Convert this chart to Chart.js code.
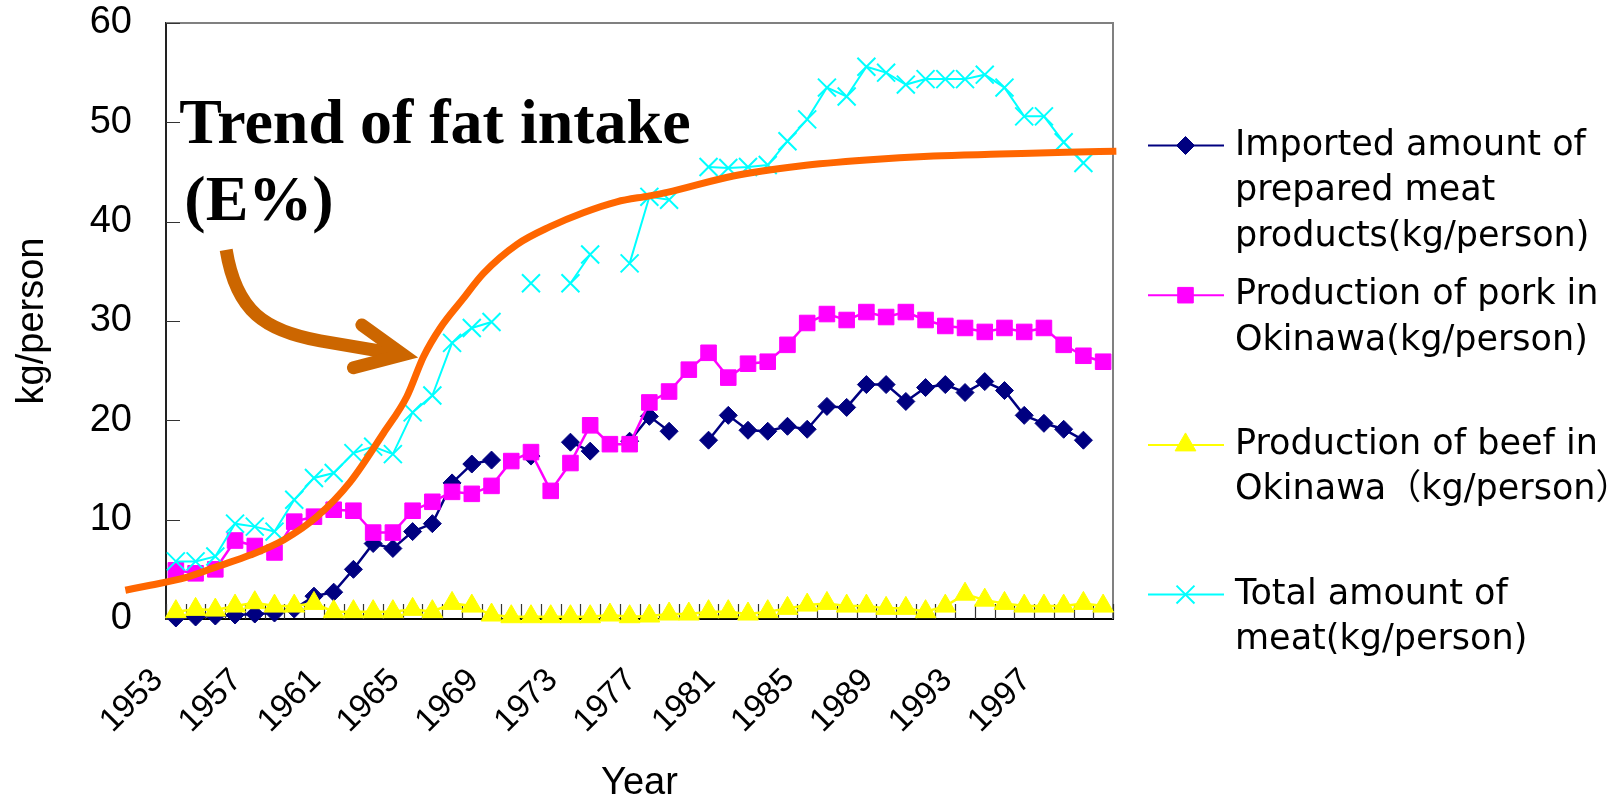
<!DOCTYPE html>
<html>
<head>
<meta charset="utf-8">
<title>Meat supply in Okinawa and the trend of fat intake</title>
<script src="https://cdn.jsdelivr.net/npm/chart.js@4.4.1/dist/chart.umd.min.js"></script>
<style>
  html, body { margin: 0; padding: 0; background: #fff; }
  canvas { display: block; }
</style>
</head>
<body>
<canvas id="meatChart" width="1616" height="803"></canvas>
<script>
// ---- data (kg/person per year) ----
const years = [1953, 1954, 1955, 1956, 1957, 1958, 1959, 1960, 1961, 1962, 1963, 1964,
  1965, 1966, 1967, 1968, 1969, 1970, 1971, 1972, 1973, 1974, 1975, 1976,
  1977, 1978, 1979, 1980, 1981, 1982, 1983, 1984, 1985, 1986, 1987, 1988,
  1989, 1990, 1991, 1992, 1993, 1994, 1995, 1996, 1997, 1998, 1999, 2000];

const tickYears = [1953, 1957, 1961, 1965, 1969, 1973, 1977, 1981, 1985, 1989, 1993, 1997];

const importedPrepared = [0.1, 0.2, 0.3, 0.4, 0.5, 0.6, 1.0, 2.3, 2.7, 5.0, 7.6, 7.1,
  8.8, 9.6, 13.7, 15.6, 16.0, null, 16.4, null, 17.8, 16.9, null, 17.9,
  20.4, 18.9, null, 18.0, 20.5, 19.0, 18.9, 19.4, 19.1, 21.4, 21.3, 23.6,
  23.6, 21.9, 23.3, 23.6, 22.8, 23.9, 23.0, 20.5, 19.7, 19.1, 18.0, null];

const porkOkinawa = [4.9, 4.6, 5.0, 7.9, 7.35, 6.7, 9.8, 10.3, 11.0, 10.9, 8.7, 8.7,
  10.9, 11.8, 12.8, 12.6, 13.4, 15.9, 16.8, 12.9, 15.7, 19.5, 17.6, 17.6,
  21.8, 22.9, 25.1, 26.8, 24.3, 25.7, 25.9, 27.6, 29.8, 30.7, 30.1, 30.9,
  30.4, 30.9, 30.1, 29.5, 29.3, 28.9, 29.3, 28.9, 29.3, 27.6, 26.5, 25.9];

const beefOkinawa = [0.74, 0.97, 0.9, 1.3, 1.64, 1.3, 1.3, 1.57, 0.74, 0.74, 0.74, 0.74,
  0.97, 0.74, 1.57, 1.3, 0.4, 0.23, 0.23, 0.23, 0.23, 0.23, 0.4, 0.23,
  0.3, 0.5, 0.5, 0.74, 0.74, 0.5, 0.74, 1.07, 1.4, 1.57, 1.3, 1.3,
  1.07, 1.07, 0.74, 1.3, 2.5, 1.9, 1.57, 1.3, 1.3, 1.3, 1.57, 1.3];

const totalMeat = [5.8, 5.8, 6.3, 9.6, 9.3, 8.8, 12.0, 14.2, 14.7, 16.7, 17.35, 16.6,
  20.8, 22.5, 27.8, 29.3, 29.9, null, 33.8, null, 33.8, 36.7, null, 35.8,
  42.5, 42.2, null, 45.5, 45.4, 45.5, 45.7, 48.1, 50.3, 53.5, 52.6, 55.6,
  55.0, 53.8, 54.35, 54.35, 54.35, 54.8, 53.5, 50.6, 50.6, 48.0, 45.9, null];

// fat-intake trend (E%), drawn on the same vertical scale as a freehand overlay
const fatTrendYears = [1950.44, 1951.7, 1953.48, 1955.08, 1956.77, 1958.46, 1960.15, 1961.84,
  1963.52, 1964.71, 1965.55, 1966.4, 1967.5, 1968.59, 1970.28, 1971.97, 1973.65,
  1975.35, 1977.0, 1977.9, 1981.25, 1984.63, 1988.0, 1991.4, 1994.76, 1998.14, 2000.67];
const fatTrendValues = [2.9, 3.4, 4.16, 5.27, 6.44, 7.96, 10.3, 13.8,
  18.7, 22.4, 26.4, 29.3, 32.1, 34.8, 37.7, 39.5, 40.9,
  42.0, 42.6, 42.95, 44.6, 45.6, 46.2, 46.6, 46.8, 47.0, 47.1];

const seriesNames = [
  ['Imported amount of', 'prepared meat', 'products(kg/person)'],
  ['Production of pork in', 'Okinawa(kg/person)'],
  ['Production of beef in', 'Okinawa（kg/person）'],
  ['Total amount of', 'meat(kg/person)']
];

// callout: label text and a curved arrow pointing at the trend curve (year, value)
const trendLabelLines = ['Trend of fat intake', '(E%)'];
const trendLabelYears = [1953.17, 1953.43];
const trendLabelValues = [47.94, 40.18];
const arrowShaftYears = [1955.55, 1956.06, 1957.53, 1960.32, 1964.3];
const arrowShaftValues = [37.16, 30.92, 29.0, 28.0, 26.65];
const arrowHeadYears = [1962.43, 1964.52, 1962.0];
const arrowHeadValues = [29.6, 26.6, 25.3];

// ---- plugins ----
const plotFrame = {
  id: 'plotFrame',
  beforeDatasetsDraw(chart) {
    const { ctx, chartArea: a, scales: { x, y } } = chart;
    ctx.save();
    ctx.strokeStyle = '#808080';
    ctx.lineWidth = 2;
    ctx.beginPath();
    ctx.moveTo(a.left, a.top);
    ctx.lineTo(a.right, a.top);
    ctx.lineTo(a.right, a.bottom);
    ctx.stroke();
    // tick marks pointing into the plot
    ctx.strokeStyle = '#333';
    ctx.lineWidth = 1.2;
    ctx.beginPath();
    y.ticks.forEach(t => {
      const py = Math.round(y.getPixelForValue(t.value)) + 0.5;
      ctx.moveTo(a.left, py);
      ctx.lineTo(a.left + 14, py);
    });
    for (let k = 0; k <= years.length; k++) {
      const px = Math.round(x.getPixelForValue(k - 0.5)) + 0.5;
      ctx.moveTo(px, a.bottom);
      ctx.lineTo(px, a.bottom - 15);
    }
    ctx.stroke();
    ctx.restore();
  }
};

const trendCallout = {
  id: 'trendCallout',
  afterDatasetsDraw(chart) {
    const { ctx, scales: { xt, y } } = chart;
    const P = (yr, v) => [xt.getPixelForValue(yr), y.getPixelForValue(v)];
    ctx.save();
    ctx.strokeStyle = '#CC6600';
    ctx.lineWidth = 13;
    ctx.lineCap = 'butt';
    ctx.lineJoin = 'round';
    const s = arrowShaftYears.map((yr, i) => P(yr, arrowShaftValues[i]));
    ctx.beginPath();
    ctx.moveTo(s[0][0], s[0][1]);
    ctx.bezierCurveTo(s[1][0], s[1][1], s[2][0], s[2][1], s[3][0], s[3][1]);
    ctx.lineTo(s[4][0], s[4][1]);
    ctx.stroke();
    const h = arrowHeadYears.map((yr, i) => P(yr, arrowHeadValues[i]));
    ctx.lineCap = 'round';
    ctx.lineJoin = 'miter';
    ctx.miterLimit = 10;
    ctx.beginPath();
    ctx.moveTo(h[0][0], h[0][1]);
    ctx.lineTo(h[1][0], h[1][1]);
    ctx.lineTo(h[2][0], h[2][1]);
    ctx.stroke();

    ctx.fillStyle = '#000';
    ctx.font = 'bold 64px "Liberation Serif", "Times New Roman", serif';
    ctx.textBaseline = 'alphabetic';
    ctx.textAlign = 'left';
    trendLabelLines.forEach((t, i) => {
      const [px, py] = P(trendLabelYears[i], trendLabelValues[i]);
      ctx.fillText(t, px, py);
    });
    ctx.restore();
  }
};

const sideLegend = {
  id: 'sideLegend',
  afterDraw(chart) {
    const { ctx, chartArea: a } = chart;
    ctx.save();
    ctx.font = '35px "DejaVu Sans", "Noto Sans CJK JP", sans-serif';
    ctx.textBaseline = 'middle';
    ctx.textAlign = 'left';
    seriesNames.forEach((lines, k) => {
      const ds = chart.data.datasets[k];
      const y0 = a.top + 122.5 + k * 149.7;
      ctx.strokeStyle = ds.borderColor;
      ctx.lineWidth = 2;
      ctx.beginPath();
      ctx.moveTo(a.right + 35, y0);
      ctx.lineTo(a.right + 111, y0);
      ctx.stroke();
      ctx.fillStyle = ds.pointBackgroundColor;
      ctx.strokeStyle = ds.pointBorderColor;
      ctx.lineWidth = ds.pointBorderWidth;
      Chart.helpers.drawPoint(ctx, {
        pointStyle: ds.pointStyle, radius: ds.pointRadius, rotation: 0,
        borderWidth: ds.pointBorderWidth
      }, a.right + 72.5, y0);
      ctx.fillStyle = '#000';
      lines.forEach((t, j) => ctx.fillText(t, a.right + 122, y0 + j * 45.5));
    });
    ctx.restore();
  }
};

// ---- chart ----
function series(data, color, style, radius, width, order) {
  return {
    data, order,
    borderColor: color, backgroundColor: color,
    pointBackgroundColor: color, pointBorderColor: color,
    pointStyle: style, pointRadius: radius, pointBorderWidth: style === 'crossRot' ? 2 : 1,
    borderWidth: width, spanGaps: false, clip: false, tension: 0
  };
}

const datasets = [
  series(importedPrepared, '#000080', 'rectRot', 9, 2.5, 4),
  series(porkOkinawa, '#FF00FF', 'rect', 11, 2.5, 3),
  series(beefOkinawa, '#FFFF00', 'triangle', 12, 2.5, 2),
  series(totalMeat, '#00FFFF', 'crossRot', 12.7, 2, 1),
  {
    data: fatTrendYears.map((yr, i) => ({ x: yr, y: fatTrendValues[i] })),
    xAxisID: 'xt', order: 0,
    borderColor: '#FF6600', borderWidth: 7, pointRadius: 0,
    cubicInterpolationMode: 'monotone', clip: false
  }
];

Chart.defaults.color = '#000';

new Chart(document.getElementById('meatChart'), {
  type: 'line',
  data: { labels: years, datasets },
  options: {
    responsive: false,
    animation: false,
    devicePixelRatio: 1,
    layout: { padding: { top: 23, right: 503, bottom: 0, left: 0 } },
    plugins: { legend: { display: false }, tooltip: { enabled: false } },
    scales: {
      x: {
        type: 'category',
        offset: true,
        grid: { display: false, drawTicks: false },
        border: { display: true, color: '#000', width: 2 },
        ticks: {
          autoSkip: false, minRotation: 45, maxRotation: 45,
          padding: 42, labelOffset: -18,
          font: { family: '"Liberation Sans", Arial, sans-serif', size: 33 },
          callback(value, index) {
            const yr = years[index];
            return tickYears.includes(yr) ? String(yr) : '';
          }
        },
        title: {
          display: true, text: 'Year', padding: 0,
          font: { family: '"Liberation Sans", Arial, sans-serif', size: 38, lineHeight: 1 }
        },
        afterFit(scale) {
          scale.height = 184;
          scale.paddingLeft = 0;
          scale.paddingRight = 0;
        }
      },
      xt: {
        type: 'linear', display: false, bounds: 'data',
        afterDataLimits(scale) { scale.min = 1952.5; scale.max = 2000.5; }
      },
      y: {
        min: 0, max: 60,
        grid: { display: false, drawTicks: false },
        border: { display: true, color: '#222', width: 2 },
        ticks: {
          stepSize: 10, padding: 34,
          font: { family: '"Liberation Sans", Arial, sans-serif', size: 38 }
        },
        title: {
          display: true, text: 'kg/person', padding: { top: 14, bottom: 0 },
          font: { family: '"Liberation Sans", Arial, sans-serif', size: 38, lineHeight: 1 }
        },
        afterFit(scale) {
          scale.width = 166;
          scale.paddingTop = 0;
          scale.paddingBottom = 0;
        }
      }
    }
  },
  plugins: [plotFrame, trendCallout, sideLegend]
});
</script>
</body>
</html>
